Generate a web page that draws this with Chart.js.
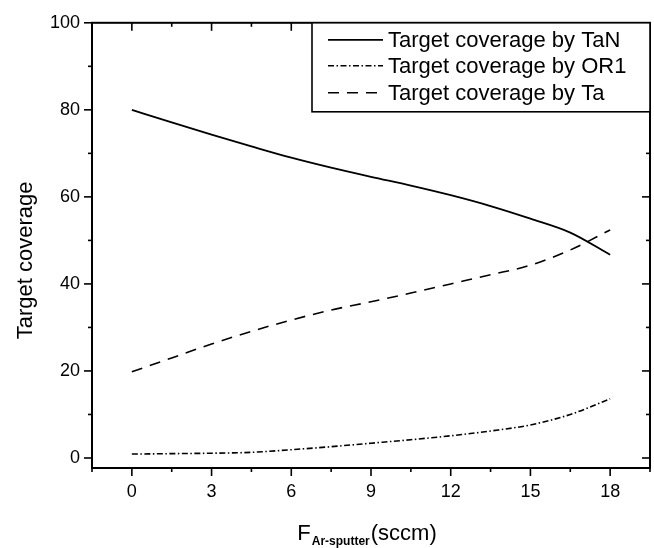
<!DOCTYPE html>
<html><head><meta charset="utf-8">
<script src="https://cdn.jsdelivr.net/npm/chart.js@4.4.0/dist/chart.umd.min.js"></script>
<style>html,body{margin:0;padding:0;background:#fff}#wrap{width:654px;height:548px}</style>
</head><body><div id="wrap"><canvas id="c" width="654" height="548"></canvas></div>
<script>
const xValues = [0, 1.5, 3, 4.5, 6, 7.5, 9, 10.5, 12, 13.5, 15, 16.5, 18];
const tanValues = [80, 77.1, 74.3, 71.6, 69, 66.7, 64.6, 62.6, 60.4, 57.9, 55.0, 51.8, 46.7];
const or1Values = [0.9, 1.0, 1.1, 1.3, 1.9, 2.6, 3.4, 4.2, 5.1, 6.2, 7.6, 10.0, 13.6];
const taValues = [19.8, 23.0, 26.2, 29.1, 31.7, 34.0, 35.9, 37.9, 40.0, 42.1, 44.3, 47.8, 52.4];
const seriesLabels = ['Target coverage by TaN', 'Target coverage by OR1', 'Target coverage by Ta'];
const xTickLabels = [0, 3, 6, 9, 12, 15, 18];
const xMinorTicks = [-1.5, 1.5, 4.5, 7.5, 10.5, 13.5, 16.5, 19.5];
const yTickLabels = [0, 20, 40, 60, 80, 100];
const yMinorTicks = [10, 30, 50, 70, 90];
const xTitleMain = 'F', xTitleSub = 'Ar-sputter', xTitleUnit = '(sccm)';
const yTitle = 'Target coverage';

const FONT = '"Liberation Sans", Arial, sans-serif';
const pts = vals => xValues.map((x, i) => ({x: x, y: vals[i]}));

const framePlugin = {
  id: 'frame',
  afterDatasetsDraw(chart) {
    const {ctx, chartArea: a, scales: {x, y}} = chart;
    ctx.save();
    ctx.strokeStyle = '#000';
    ctx.lineWidth = 2;
    ctx.strokeRect(a.left, a.top, a.right - a.left, a.bottom - a.top);
    ctx.lineWidth = 1.6;
    const seg = (x1, y1, x2, y2) => { ctx.beginPath(); ctx.moveTo(x1, y1); ctx.lineTo(x2, y2); ctx.stroke(); };
    xTickLabels.forEach(v => { const p = x.getPixelForValue(v); seg(p, a.bottom, p, a.bottom + 8); seg(p, a.top, p, a.top + 8); });
    xMinorTicks.forEach(v => { const p = x.getPixelForValue(v); seg(p, a.bottom, p, a.bottom + 4); seg(p, a.top, p, a.top + 4); });
    yTickLabels.forEach(v => { const p = y.getPixelForValue(v); seg(a.left, p, a.left - 8, p); seg(a.right, p, a.right - 8, p); });
    yMinorTicks.forEach(v => { const p = y.getPixelForValue(v); seg(a.left, p, a.left - 4, p); seg(a.right, p, a.right - 4, p); });

    // legend
    const lx = a.right - 338, ly = a.top, lw = 338, lh = 89;
    ctx.fillStyle = '#fff';
    ctx.fillRect(lx, ly, lw, lh);
    ctx.lineWidth = 1.6;
    ctx.strokeRect(lx, ly, lw, lh);
    const rows = [17, 43, 70];
    chart.data.datasets.forEach((ds, i) => {
      const yy = ly + rows[i];
      ctx.save();
      ctx.lineWidth = ds.borderWidth;
      ctx.setLineDash(ds.borderDash || []);
      ctx.beginPath(); ctx.moveTo(lx + 16, yy); ctx.lineTo(lx + 71, yy); ctx.stroke();
      ctx.restore();
      ctx.fillStyle = '#000';
      ctx.font = '22px ' + FONT;
      ctx.textAlign = 'left';
      ctx.textBaseline = 'middle';
      ctx.fillText(ds.label, lx + 76, yy + 1);
    });
    ctx.restore();
  },
  afterDraw(chart) {
    const {ctx, chartArea: a} = chart;
    ctx.save();
    ctx.fillStyle = '#000';
    // y title
    ctx.font = '22px ' + FONT;
    ctx.translate(26, (a.top + a.bottom) / 2 + 15);
    ctx.rotate(-Math.PI / 2);
    ctx.textAlign = 'center';
    ctx.textBaseline = 'middle';
    ctx.fillText(yTitle, 0, 0);
    ctx.restore();
    // x title with subscript
    ctx.save();
    ctx.fillStyle = '#000';
    ctx.textBaseline = 'alphabetic';
    ctx.textAlign = 'left';
    const mainFont = '22px ' + FONT, subFont = 'bold 12px ' + FONT;
    ctx.font = mainFont; const w1 = ctx.measureText(xTitleMain).width; const w3 = ctx.measureText(xTitleUnit).width;
    ctx.font = subFont; const w2 = ctx.measureText(xTitleSub).width;
    const total = w1 + 1 + w2 + 1 + w3;
    let sx = (a.left + a.right) / 2 - 4 - total / 2;
    const base = 540;
    ctx.font = mainFont; ctx.fillText(xTitleMain, sx, base); sx += w1 + 1;
    ctx.font = subFont; ctx.fillText(xTitleSub, sx, base + 5); sx += w2 + 1;
    ctx.font = mainFont; ctx.fillText(xTitleUnit, sx, base);
    ctx.restore();
  }
};

new Chart(document.getElementById('c'), {
  type: 'line',
  data: {
    datasets: [
      {label: seriesLabels[0], data: pts(tanValues), borderColor: '#000', borderWidth: 1.8, borderDash: []},
      {label: seriesLabels[1], data: pts(or1Values), borderColor: '#000', borderWidth: 1.6, borderDash: [6, 2.5, 1.5, 2.5]},
      {label: seriesLabels[2], data: pts(taValues), borderColor: '#000', borderWidth: 1.6, borderDash: [11, 8]}
    ]
  },
  options: {
    responsive: false,
    animation: false,
    devicePixelRatio: 1,
    layout: {padding: {left: 0, right: 4, top: 16, bottom: 0}},
    elements: {point: {radius: 0}, line: {tension: 0.4, cubicInterpolationMode: 'monotone', fill: false}},
    plugins: {legend: {display: false}, tooltip: {enabled: false}},
    scales: {
      x: {
        type: 'linear', min: -1.5, max: 19.5,
        grid: {display: false, drawTicks: false}, border: {display: false},
        afterBuildTicks: s => { s.ticks = xTickLabels.map(v => ({value: v})); },
        afterFit: s => { s.height = 80; },
        ticks: {color: '#000', padding: 13, font: {family: FONT, size: 18}, maxRotation: 0, autoSkip: false}
      },
      y: {
        type: 'linear', min: -2.3, max: 100,
        grid: {display: false, drawTicks: false}, border: {display: false},
        afterBuildTicks: s => { s.ticks = yTickLabels.map(v => ({value: v})); },
        afterFit: s => { s.width = 92; },
        ticks: {color: '#000', padding: 12, font: {family: FONT, size: 18}, autoSkip: false}
      }
    }
  },
  plugins: [framePlugin]
});
</script>
</body></html>
